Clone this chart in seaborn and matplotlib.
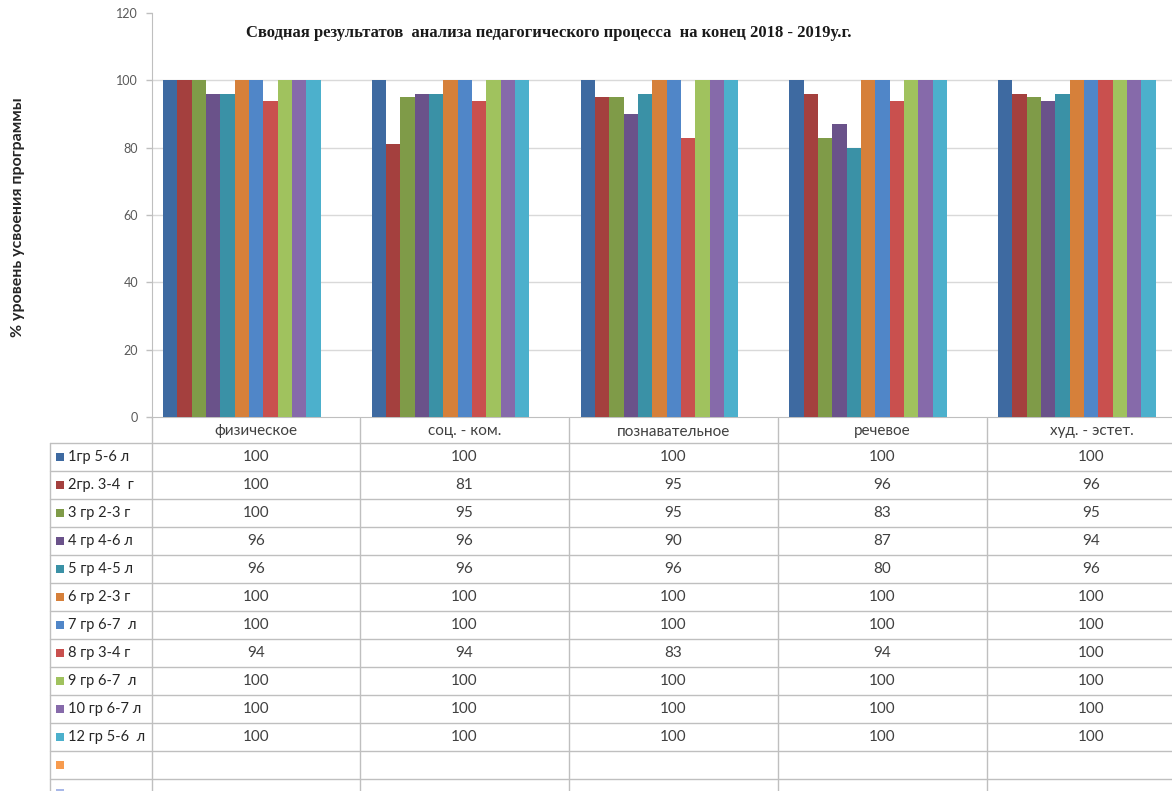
import matplotlib
matplotlib.use("Agg")
import matplotlib.pyplot as plt
import seaborn as sns
import pandas as pd
from matplotlib.patches import Rectangle

# ---------------- data ----------------
categories = ["физическое", "соц. - ком.", "познавательное", "речевое", "худ. - эстет."]
groups = ["1гр 5-6 л", "2гр. 3-4  г", "3 гр 2-3 г", "4 гр 4-6 л", "5 гр 4-5 л",
          "6 гр 2-3 г", "7 гр 6-7  л", "8 гр 3-4 г", "9 гр 6-7  л", "10 гр 6-7 л",
          "12 гр 5-6  л"]
fizicheskoe = [100, 100, 100, 96, 96, 100, 100, 94, 100, 100, 100]
soc_kom = [100, 81, 95, 96, 96, 100, 100, 94, 100, 100, 100]
poznavatelnoe = [100, 95, 95, 90, 96, 100, 100, 83, 100, 100, 100]
rechevoe = [100, 96, 83, 87, 80, 100, 100, 94, 100, 100, 100]
hud_estet = [100, 96, 95, 94, 96, 100, 100, 100, 100, 100, 100]
y_ticks = [0, 20, 40, 60, 80, 100, 120]

title = "Сводная результатов  анализа педагогического процесса  на конец 2018 - 2019у.г."
y_label = "% уровень усвоения программы"

colors = ["#3E6AA1", "#A4403E", "#7F9B48", "#6A528A", "#3A91A6", "#D6803A",
          "#5086C8", "#C9504E", "#A0C25E", "#866AAA", "#4CB0CC"]
extra_colors = ["#F79B4E", "#A8B8E8"]

series = [fizicheskoe, soc_kom, poznavatelnoe, rechevoe, hud_estet]
rows = []
for cat, vals in zip(categories, series):
    for g, v in zip(groups, vals):
        rows.append({"category": cat, "group": g, "value": v})
df = pd.DataFrame(rows)

# ---------------- figure ----------------
sns.set_style("white")
plt.rcParams["font.family"] = ["Lato", "DejaVu Sans"]

W, H = 1172, 791
fig = plt.figure(figsize=(W / 100, H / 100), dpi=100)
fig.patch.set_facecolor("white")

ax_left, ax_right, ax_top, ax_bottom = 152, 1196, 13, 417
ax = fig.add_axes([ax_left / W, 1 - ax_bottom / H, (ax_right - ax_left) / W,
                   (ax_bottom - ax_top) / H])

sns.barplot(data=df, x="category", y="value", hue="group", order=categories,
            hue_order=groups, palette=colors, width=0.755, saturation=1,
            linewidth=0, legend=False, ax=ax, zorder=3)

ax.set_xlim(-0.43, 4.57)
ax.set_ylim(0, 120)
ax.set_yticks(y_ticks)
ax.set_yticklabels([str(t) for t in y_ticks], color="#595959", fontsize=9)
ax.set_xticks([])
ax.set_xlabel("")
ax.set_ylabel("")
ax.tick_params(axis="y", length=4, color="#BFBFBF", width=1, pad=6, left=True)
for t in y_ticks[1:-1]:
    ax.axhline(t, color="#D9D9D9", lw=1, zorder=0)
for s in ["top", "right"]:
    ax.spines[s].set_visible(False)
ax.spines["left"].set_color("#BFBFBF")
ax.spines["bottom"].set_color("#BFBFBF")

fig.text(549 / W, 1 - 33 / H, title, ha="center", va="center",
         family=["Liberation Serif", "DejaVu Serif"], fontweight="bold",
         fontsize=12, color="#1a1a1a")
fig.text(18 / W, 1 - 217 / H, y_label, ha="center", va="center", rotation=90,
         fontweight="bold", fontsize=11.5, color="#262626")

# ---------------- data table ----------------
tax = fig.add_axes([0, 0, 1, 1], zorder=5)
tax.set_xlim(0, W)
tax.set_ylim(H, 0)
tax.axis("off")
tax.patch.set_alpha(0)

lc = "#BFBFBF"
col_edges = [152, 360, 569, 778, 987, 1196]
header_top, header_bot, row_h = 418, 443, 28
n_rows = len(groups) + len(extra_colors)

tax.plot([50, 50], [header_bot, H], color=lc, lw=1)
tax.plot([152, 152], [ax_bottom, H], color=lc, lw=1)
for x in col_edges[1:-1]:
    tax.plot([x, x], [header_top, H], color=lc, lw=1)
for i in range(n_rows + 1):
    y = header_bot + i * row_h
    tax.plot([50, W], [y, y], color=lc, lw=1)

fs = 11
for j, cat in enumerate(categories):
    cx = (col_edges[j] + col_edges[j + 1]) / 2
    tax.text(cx, (header_top + header_bot) / 2 + 1, cat, ha="center", va="center",
             fontsize=fs, color="#404040")
    for i, v in enumerate(series[j]):
        cy = header_bot + i * row_h + row_h / 2
        tax.text(cx, cy, str(v), ha="center", va="center", fontsize=fs,
                 color="#404040")

row_colors = colors + extra_colors
row_labels = groups + ["", ""]
for i, (c, lab) in enumerate(zip(row_colors, row_labels)):
    cy = header_bot + i * row_h + row_h / 2
    tax.add_patch(Rectangle((56, cy - 4), 8, 8, color=c, lw=0))
    tax.text(68, cy, lab, ha="left", va="center", fontsize=10.5, color="#262626")

fig.savefig("out.png", dpi=100)
